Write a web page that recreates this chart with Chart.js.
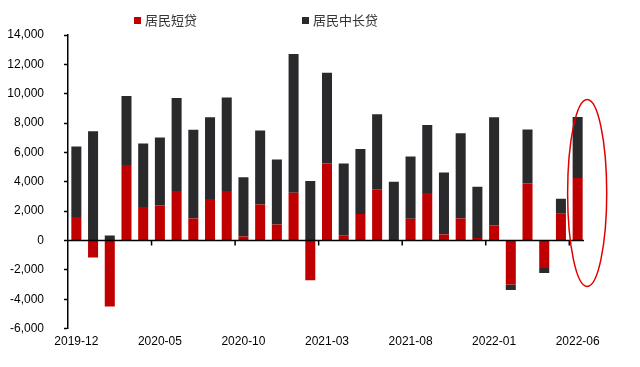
<!DOCTYPE html>
<html>
<head>
<meta charset="utf-8">
<script src="https://cdn.jsdelivr.net/npm/chart.js@4"></script>
<style>
  body { margin: 0; background: #fff; }
  #wrap { position: relative; width: 640px; height: 367px; }
  #legend { position: absolute; top: 10px; left: 0; width: 640px; height: 20px;
            font-family: "Noto Sans CJK SC", sans-serif; font-size: 13px; color: #333; }
  .item { position: absolute; top: 0; line-height: 20px; white-space: nowrap; }
  .box { display: inline-block; width: 7px; height: 7px; margin-right: 4px; vertical-align: 1px; }
</style>
</head>
<body>
<div id="wrap">
  <canvas id="loanChart" width="640" height="367"></canvas>
  <div id="legend"></div>
</div>
<script>
// Monthly household loans (100 million yuan)
const months = ["2019-12","2020-01","2020-02","2020-03","2020-04","2020-05","2020-06","2020-07","2020-08","2020-09",
  "2020-10","2020-11","2020-12","2021-01","2021-02","2021-03","2021-04","2021-05","2021-06","2021-07",
  "2021-08","2021-09","2021-10","2021-11","2021-12","2022-01","2022-02","2022-03","2022-04","2022-05","2022-06"];
const seriesNames = ["居民短贷", "居民中长贷"];
const shortLoans = [1600, -1150, -4500, 5150, 2280, 2390, 3380, 1500, 2830, 3380, 270, 2460, 1090, 3260, -2710,
  5250, 360, 1800, 3490, 0, 1480, 3240, 410, 1500, 180, 1030, -3000, 3880, -1870, 1820, 4260];
const longLoans = [4800, 7450, 340, 4700, 4330, 4630, 6330, 6050, 5560, 6360, 4040, 5040, 4430, 9440, 4060,
  6180, 4890, 4430, 5110, 4010, 4240, 4630, 4220, 5800, 3490, 7360, -370, 3690, -340, 1030, 4150];
const yMin = -6000, yMax = 14000, yStep = 2000;
const colors = ["#c00000", "#2a2a2d"];

//Legend drawn as html so it sits where the original one is
const legendLeft = [134, 302];
const legend = document.getElementById('legend');
for (let i = 0; i < seriesNames.length; i++) {
    const item = document.createElement('div');
    item.className = 'item';
    item.style.left = legendLeft[i] + 'px';
    item.innerHTML = '<span class="box" style="background:' + colors[i] + '"></span>' + seriesNames[i];
    legend.appendChild(item);
}

//Zero line tick marks every 5 months and the red ellipse round the last bar
const extrasPlugin = {
    id: 'extras',
    afterDatasetsDraw(chart) {
        const ctx = chart.ctx;
        const x = chart.scales.x, y = chart.scales.y;
        const zeroY = y.getPixelForValue(0);
        const step = x.getPixelForValue(1) - x.getPixelForValue(0);
        ctx.save();
        ctx.strokeStyle = '#000';
        ctx.lineWidth = 1.5;
        ctx.beginPath();
        ctx.moveTo(chart.chartArea.left, zeroY);
        ctx.lineTo(chart.chartArea.right - 2, zeroY);
        for (let i = 5; i < months.length; i += 5) {
            const tx = x.getPixelForValue(i) - step / 2;
            ctx.moveTo(tx, zeroY);
            ctx.lineTo(tx, zeroY + 5);
        }
        ctx.stroke();

        // ellipse highlighting the latest month
        const last = months.length - 1;
        const cx = x.getPixelForValue(last) + step * 0.57;
        const top = y.getPixelForValue(9600), bottom = y.getPixelForValue(-3130);
        ctx.strokeStyle = '#e00000';
        ctx.lineWidth = 1.5;
        ctx.beginPath();
        ctx.ellipse(cx, (top + bottom) / 2, step * 1.17, (bottom - top) / 2, 0, 0, Math.PI * 2);
        ctx.stroke();
        ctx.restore();
    }
};

const ctx = document.getElementById('loanChart').getContext('2d');
new Chart(ctx, {
    type: 'bar',
    data: {
        labels: months,
        datasets: [
            { label: seriesNames[0], data: shortLoans, backgroundColor: colors[0] },
            { label: seriesNames[1], data: longLoans, backgroundColor: colors[1] }
        ]
    },
    options: {
        responsive: false,
        animation: false,
        barPercentage: 0.6,
        categoryPercentage: 1,
        layout: { padding: { top: 35, right: 54, bottom: 12, left: 0 } },
        plugins: {
            legend: { display: false },
            tooltip: { enabled: false }
        },
        scales: {
            x: {
                stacked: true,
                grid: { display: false, drawTicks: false },
                border: { display: false },
                ticks: {
                    autoSkip: false,
                    maxRotation: 0,
                    padding: 6,
                    color: '#000',
                    font: { family: 'Liberation Sans', size: 12 },
                    callback: function (value, index) {
                        return index % 5 === 0 ? months[index] : '';
                    }
                }
            },
            y: {
                stacked: true,
                min: yMin,
                max: yMax,
                afterFit: function (scale) { scale.width = 68; },
                ticks: {
                    stepSize: yStep,
                    padding: 20,
                    color: '#000',
                    font: { family: 'Liberation Sans', size: 12 },
                    callback: function (value) { return value.toLocaleString('en-US'); }
                },
                grid: {
                    drawOnChartArea: false,
                    tickLength: 4,
                    tickColor: '#000',
                    tickWidth: 1.5
                },
                border: { color: '#000', width: 1.5 }
            }
        }
    },
    plugins: [extrasPlugin]
});
</script>
</body>
</html>
